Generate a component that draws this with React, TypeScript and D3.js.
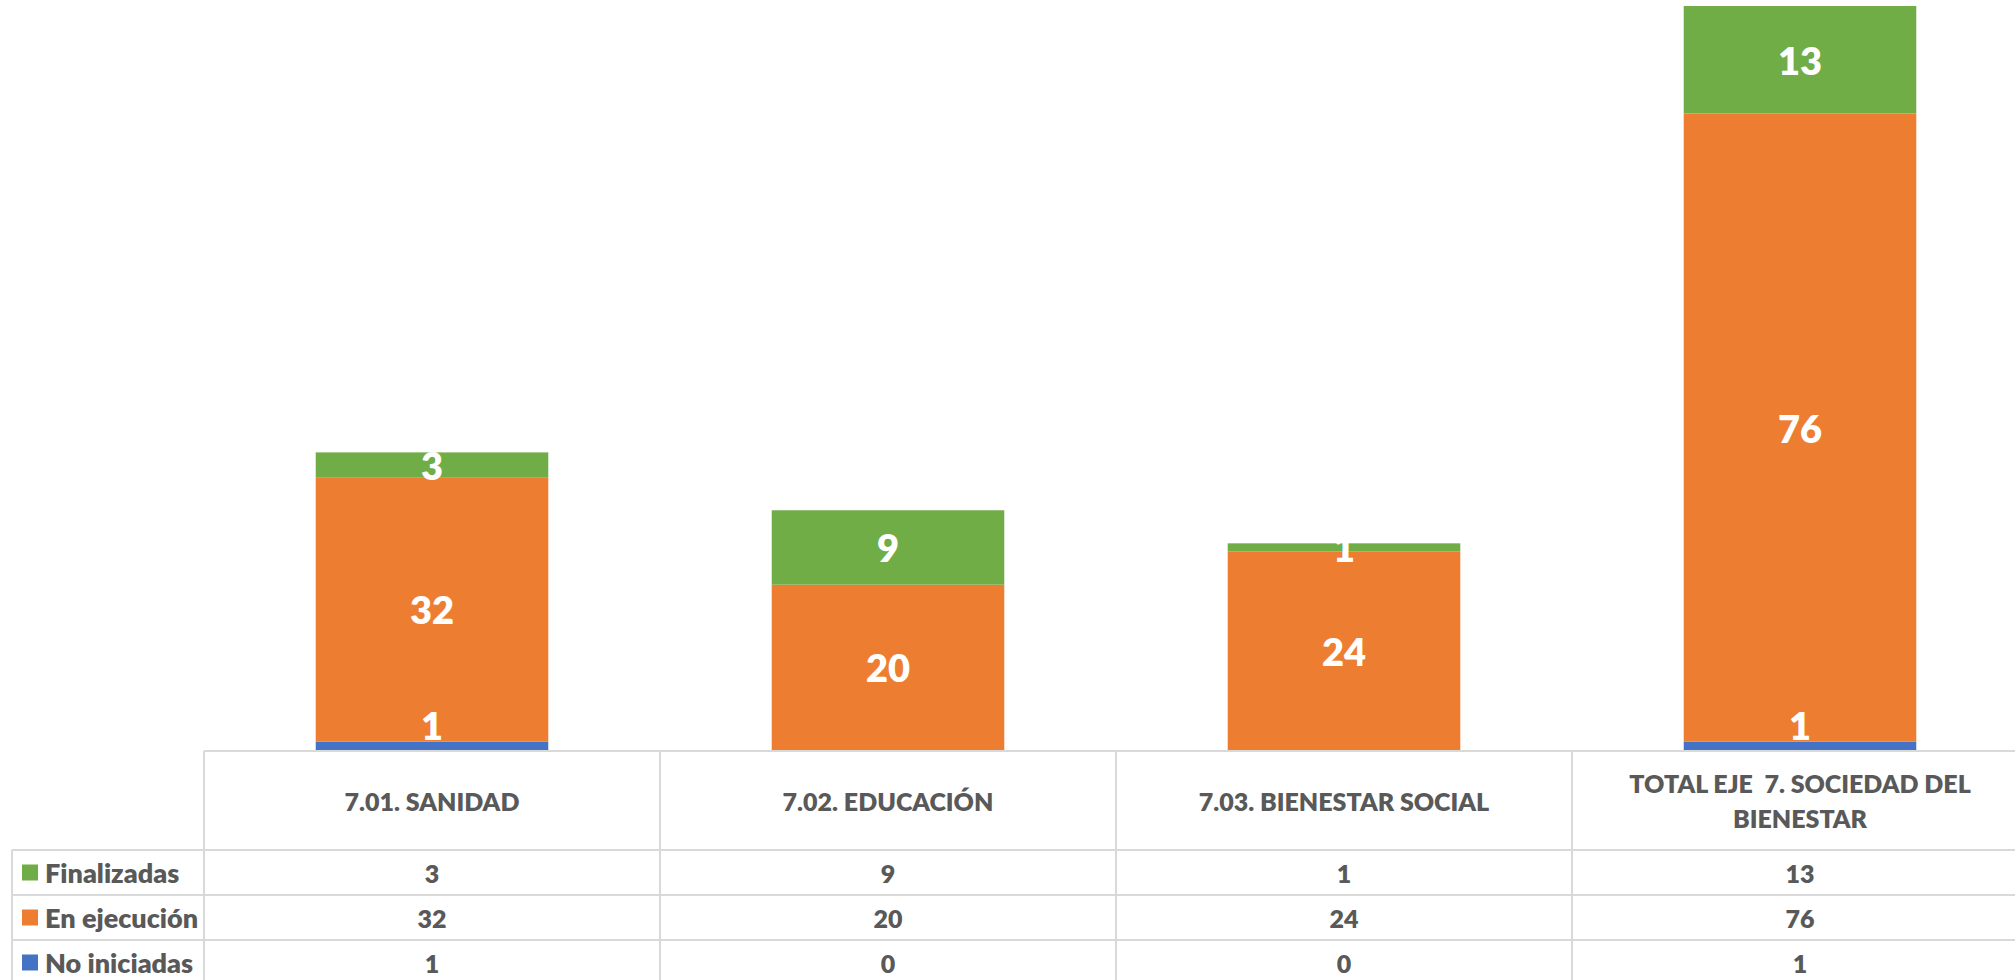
import React from "react";
import * as d3 from "d3";

const categories = ["7.01. SANIDAD", "7.02. EDUCACIÓN", "7.03. BIENESTAR SOCIAL", "TOTAL EJE  7. SOCIEDAD DEL BIENESTAR"];
const categoryLines = [["7.01. SANIDAD"], ["7.02. EDUCACIÓN"], ["7.03. BIENESTAR SOCIAL"], ["TOTAL EJE  7. SOCIEDAD DEL", "BIENESTAR"]];
const seriesNames = ["No iniciadas", "En ejecución", "Finalizadas"];
const noIniciadas = [1, 0, 0, 1];
const enEjecucion = [32, 20, 24, 76];
const finalizadas = [3, 9, 1, 13];
const seriesColors = ["#4472C4", "#ED7D31", "#70AD47"];

const W = 2015;
const H = 980;
const FONT = "Lato, 'Open Sans', sans-serif";
const GREY = "#595959";
const LINE = "#D9D9D9";

export default function App() {
  const tableLeft = 204;
  const colW = 456;
  const legendLeft = 12;
  const baseline = 750;
  const headerTop = 751;
  const headerBottom = 850;
  const rowH = 45;

  const x = d3
    .scaleBand<string>()
    .domain(categories)
    .range([tableLeft, tableLeft + colW * categories.length])
    .paddingInner(0)
    .paddingOuter(0);
  const y = d3.scaleLinear().domain([0, 90]).range([baseline, 6]);

  const seriesData = [noIniciadas, enEjecucion, finalizadas];
  const rows = categories.map((c, i) => ({
    cat: c,
    "No iniciadas": noIniciadas[i],
    "En ejecución": enEjecucion[i],
    Finalizadas: finalizadas[i],
  }));
  const stacked = d3.stack<any>().keys(seriesNames)(rows);
  const barW = colW * 0.51;

  const tableOrder = [2, 1, 0];

  return (
    <svg width={W} height={H} style={{ position: "absolute", left: 0, top: 0, background: "#fff" }}>
      {stacked.map((layer, si) => (
        <g key={seriesNames[si]}>
          {layer.map((d, ci) => {
            const v = d[1] - d[0];
            if (v <= 0) return null;
            const cx = (x(categories[ci]) as number) + colW / 2;
            return (
              <rect
                key={ci}
                x={cx - barW / 2}
                y={y(d[1])}
                width={barW}
                height={y(d[0]) - y(d[1])}
                fill={seriesColors[si]}
              />
            );
          })}
        </g>
      ))}
      {stacked.map((layer, si) => (
        <g key={"l" + seriesNames[si]}>
          {layer.map((d, ci) => {
            const v = d[1] - d[0];
            if (v <= 0) return null;
            const cx = (x(categories[ci]) as number) + colW / 2;
            let cy = (y(d[0]) + y(d[1])) / 2;
            cy = Math.min(cy, baseline - 25);
            return (
              <text
                key={ci}
                x={cx}
                y={cy}
                textAnchor="middle"
                dominantBaseline="central"
                fill="#fff"
                fontFamily={FONT}
                fontWeight={800}
                fontSize={38}
              >
                {v}
              </text>
            );
          })}
        </g>
      ))}
      <g stroke={LINE} strokeWidth={2}>
        <line x1={tableLeft} x2={W} y1={headerTop} y2={headerTop} />
        {[0, 1, 2].map((r) => (
          <line key={r} x1={legendLeft} x2={W} y1={headerBottom + r * rowH} y2={headerBottom + r * rowH} />
        ))}
        <line x1={legendLeft} x2={legendLeft} y1={headerBottom} y2={H} />
        {categories.map((c) => (
          <line key={c} x1={x(c) as number} x2={x(c) as number} y1={headerTop} y2={H} />
        ))}
      </g>
      {categories.map((c, i) => {
        const lines = categoryLines[i];
        const cx = (x(c) as number) + colW / 2;
        const mid = (headerTop + headerBottom) / 2;
        const lh = 35;
        return (
          <text
            key={c}
            textAnchor="middle"
            fill={GREY}
            fontFamily={FONT}
            fontWeight={800}
            fontSize={25}
            style={{ whiteSpace: "pre" }}
          >
            {lines.map((t, k) => (
              <tspan key={k} x={cx} y={mid + (k - (lines.length - 1) / 2) * lh} dominantBaseline="central">
                {t}
              </tspan>
            ))}
          </text>
        );
      })}
      {tableOrder.map((si, r) => {
        const cy = headerBottom + r * rowH + rowH / 2;
        return (
          <g key={seriesNames[si]}>
            <rect x={22} y={cy - 8} width={16} height={16} fill={seriesColors[si]} />
            <text x={45} y={cy} dominantBaseline="central" fill={GREY} fontFamily={FONT} fontWeight={800} fontSize={27}>
              {seriesNames[si]}
            </text>
            {categories.map((c, ci) => (
              <text
                key={c}
                x={(x(c) as number) + colW / 2}
                y={cy}
                textAnchor="middle"
                dominantBaseline="central"
                fill={GREY}
                fontFamily={FONT}
                fontWeight={800}
                fontSize={25}
              >
                {seriesData[si][ci]}
              </text>
            ))}
          </g>
        );
      })}
    </svg>
  );
}
